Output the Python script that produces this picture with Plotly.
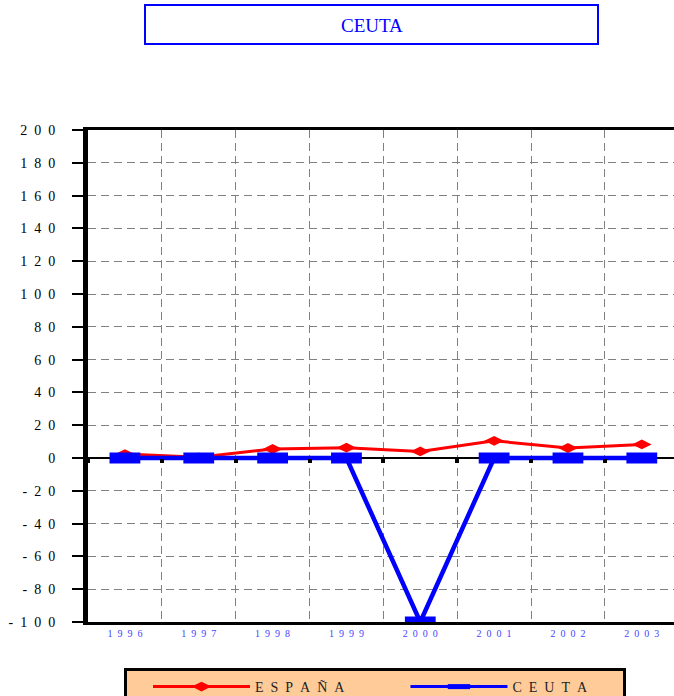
import plotly.graph_objects as go

years = ["1996", "1997", "1998", "1999", "2000", "2001", "2002", "2003"]
year_labels = ["1\u20029\u20029\u20026", "1\u20029\u20029\u20027", "1\u20029\u20029\u20028", "1\u20029\u20029\u20029",
               "2\u20020\u20020\u20020", "2\u20020\u20020\u20021", "2\u20020\u20020\u20022", "2\u20020\u20020\u20023"]
espana = [2.4, 0.4, 5.5, 6.3, 4.0, 10.5, 6.1, 8.3]
ceuta = [0, 0, 0, 0, -100, 0, 0, 0]
y_ticks = [200, 180, 160, 140, 120, 100, 80, 60, 40, 20, 0, -20, -40, -60, -80, -100]
y_tick_text = ["2\u20020\u20020", "1\u20028\u20020", "1\u20026\u20020", "1\u20024\u20020", "1\u20022\u20020",
               "1\u20020\u20020", "8\u20020", "6\u20020", "4\u20020", "2\u20020", "0",
               "-\u20022\u20020", "-\u20024\u20020", "-\u20026\u20020", "-\u20028\u20020", "-\u20021\u20020\u20020"]

SERIF = "Liberation Serif, Times New Roman, serif"
W, H = 674, 696
L, R = 88, 0
T = 130
B = H - 622
pw = W - L - R
ph = H - T - B


def px_x(page_x):
    return (page_x - L) / pw


def px_y(page_y):
    return ((H - B) - page_y) / ph


ceuta_name = "C\u2002E\u2002U\u2002T\u2002A\u2003\u2003\u2009"

fig = go.Figure()
fig.add_trace(go.Scatter(
    x=years, y=espana, name="E\u2002S\u2002P\u2002A\u2002Ñ\u2002A" + "\u2003" * 4, mode="lines+markers",
    line=dict(color="#FF0000", width=3),
    marker=dict(symbol="diamond-wide", size=14, color="#FF0000"),
))
fig.add_trace(go.Scatter(
    x=years, y=ceuta, name=ceuta_name, mode="lines+markers", legendgroup="ceuta", showlegend=False,
    line=dict(color="#0000FF", width=4.5),
    marker=dict(symbol="line-ew", size=22, color="#0000FF", line=dict(color="#0000FF", width=11)),
))
# legend entry for Ceuta (thinner line, as in the original legend)
fig.add_trace(go.Scatter(
    x=[None], y=[None], name=ceuta_name, mode="lines+markers", legendgroup="ceuta",
    line=dict(color="#0000FF", width=3),
    marker=dict(symbol="line-ew", size=22, color="#0000FF", line=dict(color="#0000FF", width=11)),
))
# helper trace for the zero-line tick axis
fig.add_trace(go.Scatter(
    x=years, y=ceuta, xaxis="x2", mode="lines", line=dict(width=0), opacity=0,
    showlegend=False, hoverinfo="skip",
))

XR = [-0.5, 7.436]
fig.update_layout(
    width=W, height=H,
    margin=dict(l=L, r=R, t=T, b=B, autoexpand=False),
    paper_bgcolor="white", plot_bgcolor="white",
    showlegend=True,
    xaxis=dict(
        type="category", categoryorder="array", categoryarray=years,
        range=XR, tickson="boundaries",
        tickvals=years, ticktext=year_labels,
        showgrid=True, gridcolor="#808080", gridwidth=1, griddash="8px,5px",
        showline=True, mirror=True, linecolor="black", linewidth=3,
        ticks="", tickfont=dict(family=SERIF, size=10, color="#4444FF"),
        zeroline=False,
    ),
    xaxis2=dict(
        type="category", categoryorder="array", categoryarray=years,
        range=XR, overlaying="x", anchor="free", position=(0 - (-100)) / 300,
        side="bottom", tickson="boundaries", ticks="outside", ticklen=4, tickwidth=4,
        tickcolor="black", showticklabels=False, showgrid=False, showline=False, zeroline=False,
    ),
    yaxis=dict(
        range=[-100, 200], tickvals=y_ticks, ticktext=y_tick_text,
        showgrid=True, gridcolor="#808080", gridwidth=1, griddash="8px,5px",
        showline=True, linecolor="black", linewidth=5,
        ticks="outside", ticklen=11, tickwidth=2, tickcolor="black",
        ticklabelstandoff=14,
        tickfont=dict(family=SERIF, size=14, color="black"),
        zeroline=True, zerolinecolor="black", zerolinewidth=2,
    ),
    legend=dict(
        orientation="h", x=px_x(124), y=px_y(668),
        xanchor="left", yanchor="top",
        bgcolor="#FFCC99", bordercolor="black", borderwidth=3,
        itemwidth=97,
        title=dict(text="\u2003", side="left", font=dict(family=SERIF, size=14)),
        font=dict(family=SERIF, size=14, color="#222222"),
    ),
    shapes=[dict(
        type="rect", xref="paper", yref="paper",
        x0=px_x(145), x1=px_x(598),
        y0=px_y(44), y1=px_y(5),
        line=dict(color="#0000FF", width=2), fillcolor="white", layer="above",
    )],
    annotations=[dict(
        text="CEUTA", xref="paper", yref="paper",
        x=px_x(371.5), y=px_y(25), showarrow=False,
        xanchor="center", yanchor="middle",
        font=dict(family=SERIF, size=19, color="#0000FF"),
    )],
)

fig.write_html("out.html", config={"displayModeBar": False},
               post_script="document.body.style.margin='0';")
